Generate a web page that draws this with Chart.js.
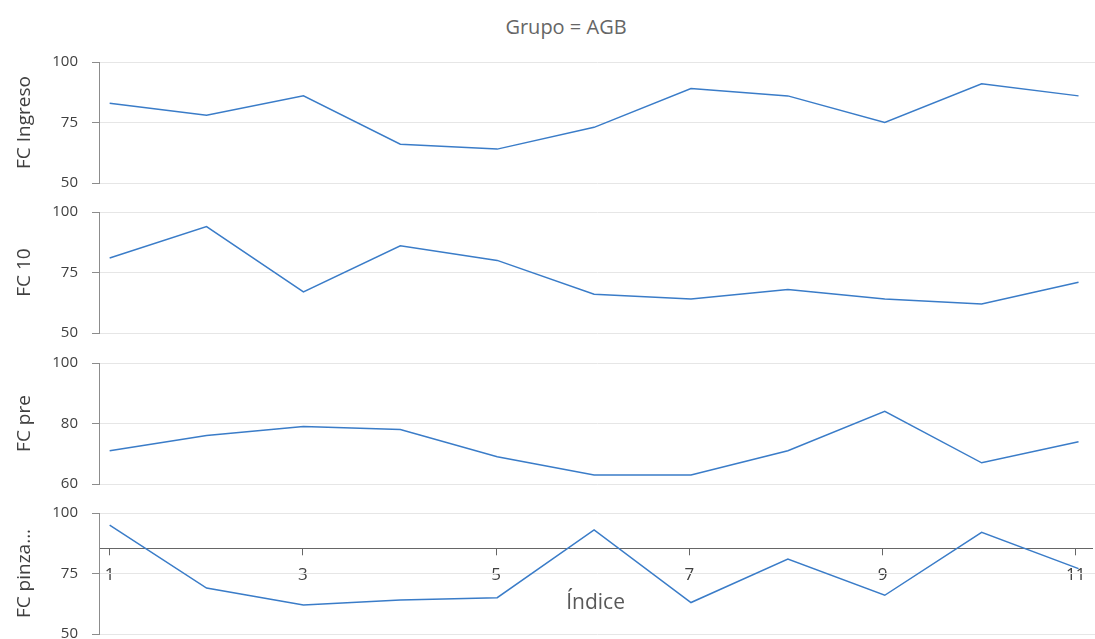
<!DOCTYPE html>
<html>
<head>
<meta charset="utf-8">
<script src="https://cdn.jsdelivr.net/npm/chart.js"></script>
<style>
  body { margin: 0; background: #fff; }
  #wrap { position: relative; width: 1095px; height: 639px; overflow: hidden; font-family: 'Open Sans', sans-serif; }
  #wrap canvas { position: absolute; left: 0; }
  #title { position: absolute; left: 0; width: 1132px; top: 15px; line-height: 24px; text-align: center; font-size: 20px; color: #666; }
</style>
</head>
<body>
<div id="wrap">
  <div id="title">Grupo = AGB</div>
  <canvas id="p1" width="1095" height="167" style="top:39px"></canvas>
  <canvas id="p2" width="1095" height="167" style="top:189px"></canvas>
  <canvas id="p3" width="1095" height="167" style="top:340px"></canvas>
  <canvas id="xaxis" width="1095" height="141" style="top:498px"></canvas>
  <canvas id="p4" width="1095" height="167" style="top:490px"></canvas>
</div>
<script>
const indices = [1, 2, 3, 4, 5, 6, 7, 8, 9, 10, 11];
const xTicks = [1, 3, 5, 7, 9, 11];
const fcIngreso = [83, 78, 86, 66, 64, 73, 89, 86, 75, 91, 86];
const fc10 = [81, 94, 67, 86, 80, 66, 64, 68, 64, 62, 71];
const fcPre = [71, 76, 79, 78, 69, 63, 63, 71, 84, 67, 74];
const fcPinza = [95, 69, 62, 64, 65, 93, 63, 81, 66, 92, 77];

const lineColor = '#3a7cc8';
const xMin = 0.89;
const xMax = 11.17;
const font = "'Open Sans', sans-serif";
Chart.defaults.font.family = font;

function makePanel(id, label, values, yMin, yMax, yStep) {
  return new Chart(document.getElementById(id), {
    type: 'line',
    data: {
      datasets: [{
        data: indices.map((x, i) => ({ x: x, y: values[i] })),
        borderColor: lineColor,
        borderWidth: 1.5,
        pointRadius: 0,
        tension: 0,
      }],
    },
    options: {
      responsive: false,
      animation: false,
      // the y scale reserves half a label + tick padding above and below
      layout: { padding: 0 },
      plugins: { legend: { display: false }, tooltip: { enabled: false } },
      scales: {
        x: { type: 'linear', display: false, min: xMin, max: xMax },
        y: {
          min: yMin,
          max: yMax,
          ticks: { stepSize: yStep, padding: 14, color: '#404040', font: { size: 15 } },
          grid: { color: '#e6e6e6', tickColor: '#8c8c8c', tickLength: 7 },
          border: { color: '#8c8c8c' },
          title: { display: true, text: label, color: '#404040', font: { size: 19 }, padding: { top: 13.6, bottom: 0 } },
          afterFit(scale) { scale.width = 99; },
        },
      },
    },
  });
}

makePanel('p1', 'FC Ingreso', fcIngreso, 50, 100, 25);
makePanel('p2', 'FC 10', fc10, 50, 100, 25);
makePanel('p3', 'FC pre', fcPre, 60, 100, 20);

// shared index axis, drawn across the last panel
new Chart(document.getElementById('xaxis'), {
  type: 'line',
  data: { datasets: [] },
  options: {
    responsive: false,
    animation: false,
    layout: { padding: { left: 99, right: 0, top: 0, bottom: 0 } },
    plugins: { legend: { display: false }, tooltip: { enabled: false } },
    scales: {
      x: {
        type: 'linear',
        min: xMin,
        max: xMax,
        afterBuildTicks(scale) { scale.ticks = xTicks.map(v => ({ value: v })); },
        grid: { drawOnChartArea: false, tickColor: '#666', tickLength: 7 },
        border: { color: '#666' },
        ticks: { color: '#404040', font: { size: 17 }, padding: 9.5, maxRotation: 0, autoSkip: false },
        title: { display: true, text: 'Índice', color: '#595959', font: { size: 21 }, padding: { top: 0, bottom: 23.4 } },
        afterFit(scale) { scale.height = 141 - 50.3; },
      },
      y: { display: false, min: 0, max: 1 },
    },
  },
});

makePanel('p4', 'FC pinza...', fcPinza, 50, 100, 25);
</script>
</body>
</html>
